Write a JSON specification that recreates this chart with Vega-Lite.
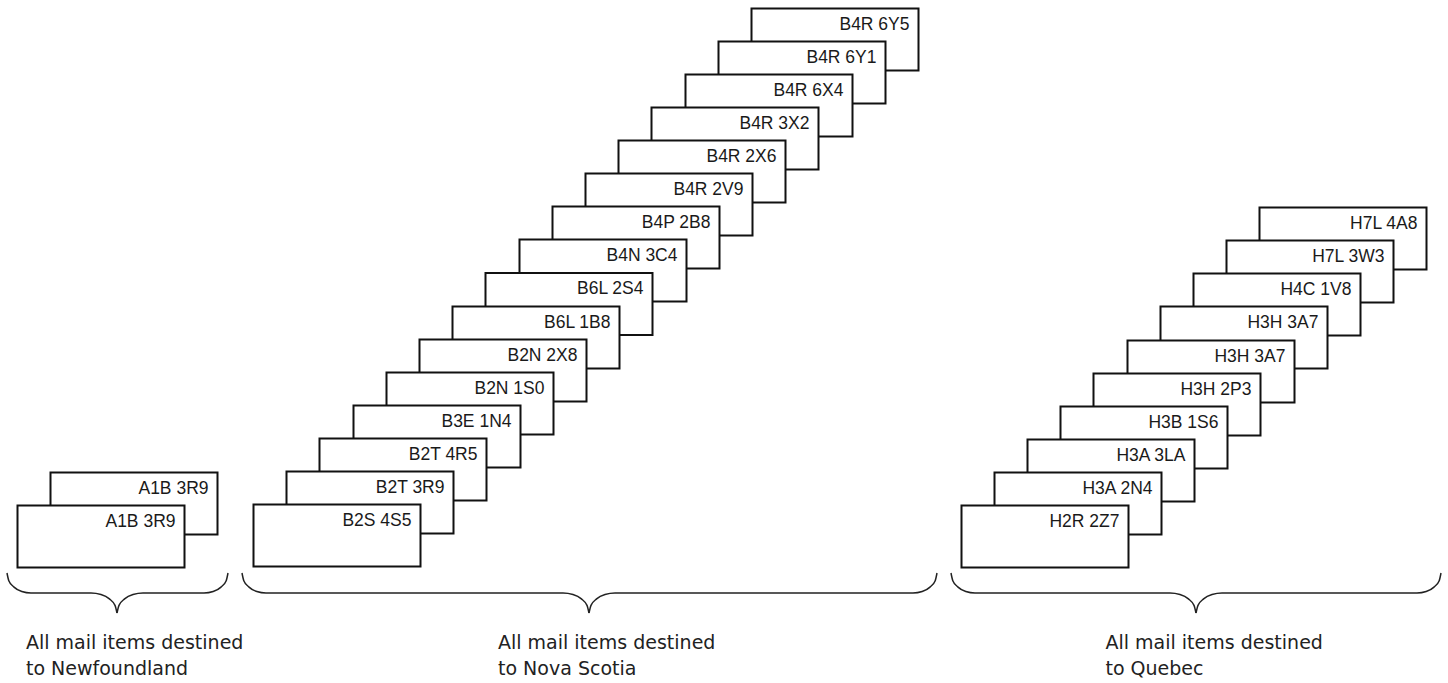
{
  "$schema": "https://vega.github.io/schema/vega-lite/v6.json",
  "width": 1448,
  "height": 683,
  "padding": 0,
  "autosize": {"type": "fit", "contains": "padding"},
  "background": "white",
  "config": {"view": {"stroke": null}},
  "datasets": {
    "env": [
      {"g": "Newfoundland", "label": "A1B 3R9", "cx": 134, "cy": 503.5},
      {"g": "Newfoundland", "label": "A1B 3R9", "cx": 101, "cy": 536.5},
      {"g": "Nova Scotia", "label": "B4R 6Y5", "cx": 835, "cy": 39.5},
      {"g": "Nova Scotia", "label": "B4R 6Y1", "cx": 802, "cy": 72.5},
      {"g": "Nova Scotia", "label": "B4R 6X4", "cx": 769, "cy": 105.5},
      {"g": "Nova Scotia", "label": "B4R 3X2", "cx": 735, "cy": 138.5},
      {"g": "Nova Scotia", "label": "B4R 2X6", "cx": 702, "cy": 171.5},
      {"g": "Nova Scotia", "label": "B4R 2V9", "cx": 669, "cy": 204.5},
      {"g": "Nova Scotia", "label": "B4P 2B8", "cx": 636, "cy": 237.5},
      {"g": "Nova Scotia", "label": "B4N 3C4", "cx": 603, "cy": 270.5},
      {"g": "Nova Scotia", "label": "B6L 2S4", "cx": 569, "cy": 304},
      {"g": "Nova Scotia", "label": "B6L 1B8", "cx": 536, "cy": 337.5},
      {"g": "Nova Scotia", "label": "B2N 2X8", "cx": 503, "cy": 370.5},
      {"g": "Nova Scotia", "label": "B2N 1S0", "cx": 470, "cy": 403.5},
      {"g": "Nova Scotia", "label": "B3E 1N4", "cx": 437, "cy": 436.5},
      {"g": "Nova Scotia", "label": "B2T 4R5", "cx": 403, "cy": 469.5},
      {"g": "Nova Scotia", "label": "B2T 3R9", "cx": 370, "cy": 502.5},
      {"g": "Nova Scotia", "label": "B2S 4S5", "cx": 337, "cy": 535.5},
      {"g": "Quebec", "label": "H7L 4A8", "cx": 1343, "cy": 238.5},
      {"g": "Quebec", "label": "H7L 3W3", "cx": 1310, "cy": 271.5},
      {"g": "Quebec", "label": "H4C 1V8", "cx": 1277, "cy": 304.5},
      {"g": "Quebec", "label": "H3H 3A7", "cx": 1244, "cy": 337.5},
      {"g": "Quebec", "label": "H3H 3A7", "cx": 1211, "cy": 371.5},
      {"g": "Quebec", "label": "H3H 2P3", "cx": 1177, "cy": 404.5},
      {"g": "Quebec", "label": "H3B 1S6", "cx": 1144, "cy": 437.5},
      {"g": "Quebec", "label": "H3A 3LA", "cx": 1111, "cy": 470.5},
      {"g": "Quebec", "label": "H3A 2N4", "cx": 1078, "cy": 503.5},
      {"g": "Quebec", "label": "H2R 2Z7", "cx": 1045, "cy": 536.5}
    ],
    "brace": [
      {"id": "NL-L", "o": 0, "bx": 7, "by": 573},
      {"id": "NL-L", "o": 1, "bx": 8.8, "by": 580.7},
      {"id": "NL-L", "o": 2, "bx": 14, "by": 587.1},
      {"id": "NL-L", "o": 3, "bx": 21.8, "by": 591.5},
      {"id": "NL-L", "o": 4, "bx": 31, "by": 593},
      {"id": "NL-L", "o": 5, "bx": 91, "by": 593},
      {"id": "NL-L", "o": 6, "bx": 101, "by": 594.5},
      {"id": "NL-L", "o": 7, "bx": 109.4, "by": 598.9},
      {"id": "NL-L", "o": 8, "bx": 115, "by": 605.4},
      {"id": "NL-L", "o": 9, "bx": 117, "by": 613},
      {"id": "NL-R", "o": 0, "bx": 117, "by": 613},
      {"id": "NL-R", "o": 1, "bx": 119, "by": 605.4},
      {"id": "NL-R", "o": 2, "bx": 124.6, "by": 598.9},
      {"id": "NL-R", "o": 3, "bx": 133, "by": 594.5},
      {"id": "NL-R", "o": 4, "bx": 143, "by": 593},
      {"id": "NL-R", "o": 5, "bx": 204, "by": 593},
      {"id": "NL-R", "o": 6, "bx": 213.2, "by": 591.5},
      {"id": "NL-R", "o": 7, "bx": 221, "by": 587.1},
      {"id": "NL-R", "o": 8, "bx": 226.2, "by": 580.7},
      {"id": "NL-R", "o": 9, "bx": 228, "by": 573},
      {"id": "NS-L", "o": 0, "bx": 242, "by": 573},
      {"id": "NS-L", "o": 1, "bx": 243.8, "by": 580.7},
      {"id": "NS-L", "o": 2, "bx": 249, "by": 587.1},
      {"id": "NS-L", "o": 3, "bx": 256.8, "by": 591.5},
      {"id": "NS-L", "o": 4, "bx": 266, "by": 593},
      {"id": "NS-L", "o": 5, "bx": 563, "by": 593},
      {"id": "NS-L", "o": 6, "bx": 573, "by": 594.5},
      {"id": "NS-L", "o": 7, "bx": 581.4, "by": 598.9},
      {"id": "NS-L", "o": 8, "bx": 587, "by": 605.4},
      {"id": "NS-L", "o": 9, "bx": 589, "by": 613},
      {"id": "NS-R", "o": 0, "bx": 589, "by": 613},
      {"id": "NS-R", "o": 1, "bx": 591, "by": 605.4},
      {"id": "NS-R", "o": 2, "bx": 596.6, "by": 598.9},
      {"id": "NS-R", "o": 3, "bx": 605, "by": 594.5},
      {"id": "NS-R", "o": 4, "bx": 615, "by": 593},
      {"id": "NS-R", "o": 5, "bx": 913, "by": 593},
      {"id": "NS-R", "o": 6, "bx": 922.2, "by": 591.5},
      {"id": "NS-R", "o": 7, "bx": 930, "by": 587.1},
      {"id": "NS-R", "o": 8, "bx": 935.2, "by": 580.7},
      {"id": "NS-R", "o": 9, "bx": 937, "by": 573},
      {"id": "QC-L", "o": 0, "bx": 951, "by": 573},
      {"id": "QC-L", "o": 1, "bx": 952.8, "by": 580.7},
      {"id": "QC-L", "o": 2, "bx": 958, "by": 587.1},
      {"id": "QC-L", "o": 3, "bx": 965.8, "by": 591.5},
      {"id": "QC-L", "o": 4, "bx": 975, "by": 593},
      {"id": "QC-L", "o": 5, "bx": 1170, "by": 593},
      {"id": "QC-L", "o": 6, "bx": 1180, "by": 594.5},
      {"id": "QC-L", "o": 7, "bx": 1188.4, "by": 598.9},
      {"id": "QC-L", "o": 8, "bx": 1194, "by": 605.4},
      {"id": "QC-L", "o": 9, "bx": 1196, "by": 613},
      {"id": "QC-R", "o": 0, "bx": 1196, "by": 613},
      {"id": "QC-R", "o": 1, "bx": 1198, "by": 605.4},
      {"id": "QC-R", "o": 2, "bx": 1203.6, "by": 598.9},
      {"id": "QC-R", "o": 3, "bx": 1212, "by": 594.5},
      {"id": "QC-R", "o": 4, "bx": 1222, "by": 593},
      {"id": "QC-R", "o": 5, "bx": 1417, "by": 593},
      {"id": "QC-R", "o": 6, "bx": 1426.2, "by": 591.5},
      {"id": "QC-R", "o": 7, "bx": 1434, "by": 587.1},
      {"id": "QC-R", "o": 8, "bx": 1439.2, "by": 580.7},
      {"id": "QC-R", "o": 9, "bx": 1441, "by": 573}
    ],
    "captions": [
      {"t": "All mail items destined", "tx": 26, "ty": 649},
      {"t": "to Newfoundland", "tx": 26, "ty": 675},
      {"t": "All mail items destined", "tx": 498, "ty": 649},
      {"t": "to Nova Scotia", "tx": 498, "ty": 675},
      {"t": "All mail items destined", "tx": 1105.5, "ty": 649},
      {"t": "to Quebec", "tx": 1105.5, "ty": 675}
    ]
  },
  "layer": [
    {
      "data": {"name": "env"},
      "mark": {"type": "rect", "width": 167, "height": 62, "fill": "white", "stroke": "#111", "strokeWidth": 2},
      "encoding": {
        "x": {"field": "cx", "type": "quantitative", "scale": {"domain": [0, 1448], "nice": false, "zero": false}, "axis": null},
        "y": {"field": "cy", "type": "quantitative", "scale": {"domain": [0, 683], "reverse": true, "nice": false, "zero": false}, "axis": null}
      }
    },
    {
      "data": {"name": "env"},
      "mark": {"type": "text", "align": "right", "baseline": "alphabetic", "dx": 74.5, "dy": -10, "font": "Liberation Sans", "fontSize": 17.5, "color": "#1a1a1a"},
      "encoding": {
        "x": {"field": "cx", "type": "quantitative"},
        "y": {"field": "cy", "type": "quantitative"},
        "text": {"field": "label"}
      }
    },
    {
      "data": {"name": "brace"},
      "mark": {"type": "line", "interpolate": "monotone", "stroke": "#222", "strokeWidth": 1.5},
      "encoding": {
        "x": {"field": "bx", "type": "quantitative"},
        "y": {"field": "by", "type": "quantitative"},
        "detail": {"field": "id"},
        "order": {"field": "o"}
      }
    },
    {
      "data": {"name": "captions"},
      "mark": {"type": "text", "align": "left", "baseline": "alphabetic", "font": "DejaVu Sans", "fontSize": 19, "color": "#222"},
      "encoding": {
        "x": {"field": "tx", "type": "quantitative"},
        "y": {"field": "ty", "type": "quantitative"},
        "text": {"field": "t"}
      }
    }
  ]
}
